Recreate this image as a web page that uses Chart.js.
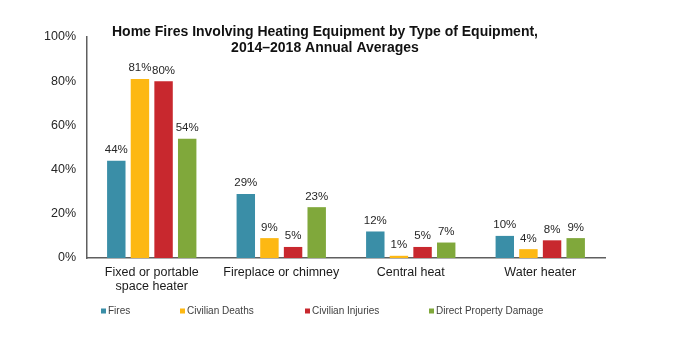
<!DOCTYPE html>
<html>
<head>
<meta charset="utf-8">
<script src="https://cdn.jsdelivr.net/npm/chart.js@4/dist/chart.umd.min.js"></script>
<style>
  html, body { margin: 0; padding: 0; background: #ffffff; }
  #wrap { position: relative; width: 700px; height: 343px; }
</style>
</head>
<body>
<div id="wrap"><canvas id="c" width="700" height="343"></canvas></div>
<script>
const categories = [["Fixed or portable", "space heater"], "Fireplace or chimney", "Central heat", "Water heater"];
const fires = [44, 29, 12, 10];
const civilianDeaths = [81, 9, 1, 4];
const civilianInjuries = [80, 5, 5, 8];
const propertyDamage = [54, 23, 7, 9];
const seriesNames = ["Fires", "Civilian Deaths", "Civilian Injuries", "Direct Property Damage"];
const yTicks = [0, 20, 40, 60, 80, 100];
const titleLines = ["Home Fires Involving Heating Equipment by Type of Equipment,", "2014\u20132018 Annual Averages"];

const colors = ["#3A8EA7", "#FDB813", "#C8282E", "#80A83B"];
const FONT = "'Liberation Sans', Arial, sans-serif";

const titlePlugin = {
  id: 'customTitle',
  afterDraw(chart) {
    const ctx = chart.ctx;
    ctx.save();
    ctx.font = "bold 14px " + FONT;
    ctx.fillStyle = "#111111";
    ctx.textAlign = "center";
    ctx.textBaseline = "middle";
    ctx.fillText(titleLines[0], 325, 32);
    ctx.fillText(titleLines[1], 325, 48);
    ctx.restore();
  }
};

const dataLabelPlugin = {
  id: 'dataLabels',
  afterDatasetsDraw(chart) {
    const ctx = chart.ctx;
    ctx.save();
    ctx.font = "11.5px " + FONT;
    ctx.fillStyle = "#262626";
    ctx.textAlign = "center";
    ctx.textBaseline = "bottom";
    chart.data.datasets.forEach((ds, i) => {
      const meta = chart.getDatasetMeta(i);
      meta.data.forEach((bar, j) => {
        ctx.fillText(ds.data[j] + "%", bar.x, bar.y - 5);
      });
    });
    ctx.restore();
  }
};

const legendPlugin = {
  id: 'customLegend',
  afterDraw(chart) {
    const ctx = chart.ctx;
    const xs = [101, 180, 305, 429];
    const y = 311;
    ctx.save();
    ctx.font = "10px " + FONT;
    ctx.textBaseline = "middle";
    ctx.textAlign = "left";
    chart.data.datasets.forEach((ds, i) => {
      ctx.fillStyle = ds.backgroundColor;
      ctx.fillRect(xs[i], y - 2.5, 5, 5);
      ctx.fillStyle = "#404040";
      ctx.fillText(ds.label, xs[i] + 7, y);
    });
    ctx.restore();
  }
};

const seriesData = [fires, civilianDeaths, civilianInjuries, propertyDamage];

new Chart(document.getElementById('c'), {
  type: 'bar',
  data: {
    labels: categories,
    datasets: seriesData.map((d, i) => ({
      label: seriesNames[i],
      data: d,
      backgroundColor: colors[i],
      borderWidth: 0,
      categoryPercentage: 0.73,
      barPercentage: 0.78
    }))
  },
  options: {
    responsive: false,
    animation: false,
    devicePixelRatio: 1,
    layout: { padding: { top: 37, right: 95, left: 0, bottom: 0 } },
    plugins: {
      legend: { display: false },
      title: { display: false },
      tooltip: { enabled: false }
    },
    scales: {
      x: {
        grid: { display: false, drawTicks: false },
        border: { display: true, color: "#5f5f5f", width: 1.5 },
        ticks: {
          color: "#1a1a1a",
          font: { family: FONT, size: 12.5, lineHeight: 1.12 },
          padding: 8,
          maxRotation: 0,
          autoSkip: false
        },
        afterFit(scale) { scale.height = 85; }
      },
      y: {
        min: 0,
        max: 100,
        afterBuildTicks(scale) { scale.ticks = yTicks.map(v => ({ value: v })); },
        grid: { display: false, drawTicks: false },
        border: { display: true, color: "#5f5f5f", width: 1.5 },
        ticks: {
          color: "#262626",
          font: { family: FONT, size: 12.5 },
          padding: 11,
          callback: v => v + "%"
        },
        afterFit(scale) { scale.width = 87; }
      }
    }
  },
  plugins: [dataLabelPlugin, titlePlugin, legendPlugin]
});
</script>
</body>
</html>
